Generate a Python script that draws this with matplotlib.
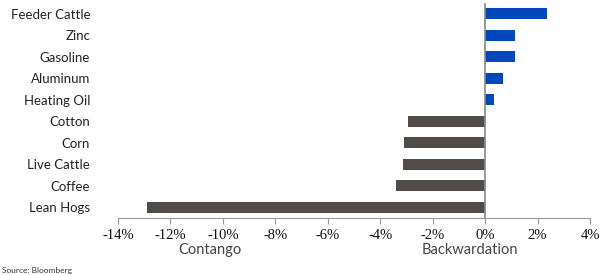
import numpy as np
import matplotlib
matplotlib.use("Agg")
import matplotlib.pyplot as plt

commodities = ['Feeder Cattle', 'Zinc', 'Gasoline', 'Aluminum', 'Heating Oil',
               'Cotton', 'Corn', 'Live Cattle', 'Coffee', 'Lean Hogs']
roll_yield = [2.37, 1.15, 1.15, 0.7, 0.35, -2.95, -3.1, -3.15, -3.4, -12.9]
xticks = [-14, -12, -10, -8, -6, -4, -2, 0, 2, 4]

blue = '#0047BB'
grey = '#524C48'
colors = [blue if v > 0 else grey for v in roll_yield]

fig = plt.figure(figsize=(6.13, 2.75), dpi=100)
ax = fig.add_axes([0.1925, 0.207, 0.77, 0.782])

y = np.arange(len(commodities))
ax.barh(y, roll_yield, height=0.5, color=colors)
ax.set_ylim(len(commodities) - 0.5, -0.5)
ax.set_xlim(-14, 4)

ax.set_yticks(y)
ax.set_yticklabels(commodities)
ax.tick_params(axis='y', length=0, pad=20)

ax.set_xticks(xticks)
ax.set_xticklabels([f'{t}%' for t in xticks])
ax.tick_params(axis='x', length=4, color='#999999', pad=4)

for lab in ax.get_yticklabels():
    lab.set_fontfamily('Lato')
    lab.set_fontsize(9.5)
    lab.set_color('#222222')
for lab in ax.get_xticklabels():
    lab.set_fontfamily('Liberation Serif')
    lab.set_fontsize(10.5)
    lab.set_color('#111111')

for s in ['left', 'right', 'top']:
    ax.spines[s].set_visible(False)
ax.spines['bottom'].set_color('#999999')
ax.axvline(0, color='#888888', lw=1.2)

fig.text(210 / 613, 1 - 250 / 275, 'Contango', ha='center', va='center',
         fontsize=10.5, family='Lato', color='#444444')
fig.text(470 / 613, 1 - 250 / 275, 'Backwardation', ha='center', va='center',
         fontsize=10.5, family='Lato', color='#444444')
fig.text(0.003, 1 - 270 / 275, 'Source: Bloomberg', ha='left', va='center',
         fontsize=6, family='Lato', color='#333333')

fig.savefig('out.png', dpi=100)
